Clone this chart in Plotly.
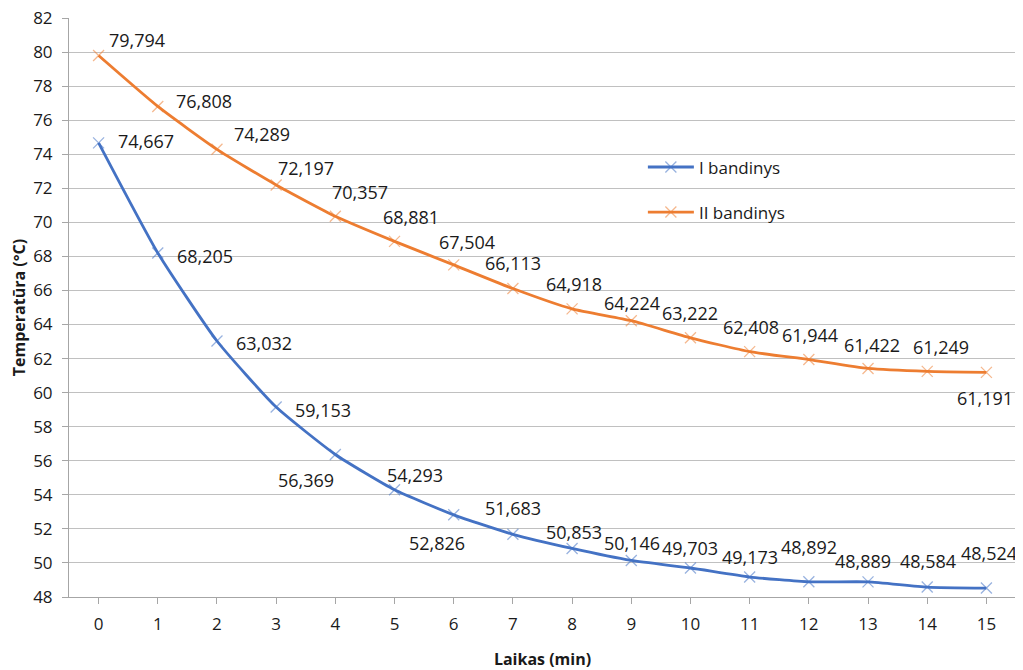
import plotly.graph_objects as go

minutes = list(range(16))
series1_name = "I bandinys"
series1 = [74.667, 68.205, 63.032, 59.153, 56.369, 54.293, 52.826, 51.683, 50.853,
           50.146, 49.703, 49.173, 48.892, 48.889, 48.584, 48.524]
series2_name = "II bandinys"
series2 = [79.794, 76.808, 74.289, 72.197, 70.357, 68.881, 67.504, 66.113, 64.918,
           64.224, 63.222, 62.408, 61.944, 61.422, 61.249, 61.191]
y_ticks = list(range(48, 83, 2))

BLUE = "#4472c4"
ORANGE = "#ed7d31"
FONT = "Open Sans"

def fmt(v):
    return f"{v:.3f}".replace(".", ",")

# label offsets in pixels (dx, dy up) relative to each point
off1 = [(47, 2), (47, -3), (47, -2), (47, -3), (-29, -26), (20, 15), (-17, -28), (0, 26),
        (2, 16), (1, 17), (0, 20), (0, 20), (0, 35), (-5, 21), (1, 26), (3, 35)]
off2 = [(38, 16), (46, 5), (45, 15), (30, 17), (25, 24), (16, 24), (13, 23), (0, 26),
        (2, 25), (1, 18), (0, 25), (1, 25), (1, 25), (4, 23), (14, 24), (-1, -26)]

fig = go.Figure()
for name, vals, col, mcol in [(series1_name, series1, BLUE, "rgba(68,114,196,0.55)"),
                              (series2_name, series2, ORANGE, "rgba(237,125,49,0.55)")]:
    fig.add_trace(go.Scatter(
        x=minutes, y=vals, name=name, mode="lines+markers",
        legendgroup=name,
        line=dict(color=col, width=2.8, shape="spline", smoothing=0.5),
        marker=dict(symbol="x-thin", size=11, line=dict(color=mcol, width=1.3)),
    ))

annotations = []
for vals, offs in [(series1, off1), (series2, off2)]:
    for x, v, (dx, dy) in zip(minutes, vals, offs):
        annotations.append(dict(
            x=x, y=v, xref="x", yref="y", text=fmt(v), showarrow=False,
            xshift=dx, yshift=dy, font=dict(family=FONT, size=18, color="#1a1a1a"),
        ))

# page body has an 8px default margin, so the figure is sized to fit the window
fig.update_layout(
    width=1015, height=662,
    margin=dict(l=61, r=7, t=10, b=73, autoexpand=False),
    paper_bgcolor="white", plot_bgcolor="white",
    font=dict(family=FONT, size=17, color="#1a1a1a"),
    showlegend=True,
    legend=dict(x=0.606, y=0.773, xanchor="left", yanchor="top",
                bgcolor="rgba(0,0,0,0)", font=dict(family=FONT, size=17, color="#1a1a1a"),
                tracegroupgap=20, itemwidth=46),
    annotations=annotations,
    xaxis=dict(
        range=[-0.5, 15.5], tickmode="array", tickvals=minutes,
        ticktext=[str(m) for m in minutes],
        showgrid=False, zeroline=False, automargin=False,
        showline=True, linecolor="#a6a6a6", linewidth=1,
        ticks="outside", ticklen=6, tickcolor="#a6a6a6",
        ticklabelstandoff=6, ticklabeloverflow="allow",
        tickfont=dict(family=FONT, size=17),
        title=dict(text="<b>Laikas (min)</b>", font=dict(family=FONT, size=16), standoff=19),
    ),
    yaxis=dict(
        range=[48, 82], tickmode="array", tickvals=y_ticks,
        ticktext=[str(t) for t in y_ticks],
        showgrid=True, gridcolor="#c0c0c0", gridwidth=1, zeroline=False, automargin=False,
        showline=True, linecolor="#a6a6a6", linewidth=1,
        ticks="outside", ticklen=6, tickcolor="#a6a6a6",
        ticklabelstandoff=6, ticklabeloverflow="allow",
        tickfont=dict(family=FONT, size=17),
        title=dict(text="<b>Temperatūra (°C)</b>", font=dict(family=FONT, size=16), standoff=6),
    ),
)

fig.write_html("out.html")
